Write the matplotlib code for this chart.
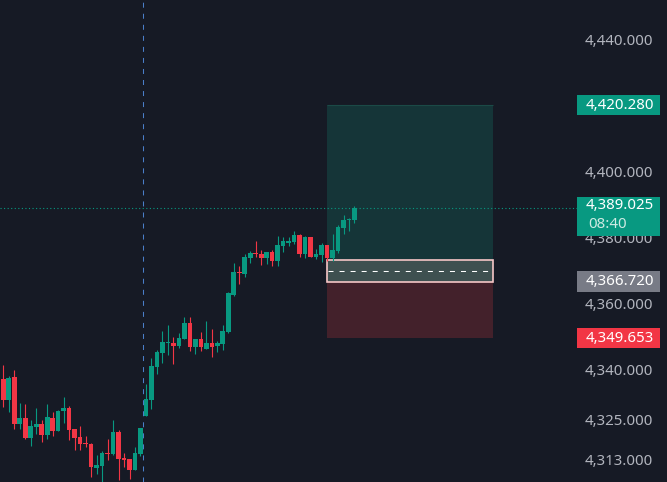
import matplotlib
matplotlib.use("Agg")
import matplotlib.pyplot as plt
from matplotlib.patches import Rectangle
from matplotlib.transforms import blended_transform_factory
import numpy as np

# ---------------- data ----------------
opens = [4337.3, 4331.0, 4337.9, 4323.7, 4325.5, 4319.5, 4322.7, 4323.6, 4320.3, 4325.5,
         4321.5, 4327.6, 4328.5, 4322.1, 4319.7, 4317.9, 4317.6, 4310.4, 4311.0, 4314.8,
         4314.5, 4321.2, 4313.3, 4313.0, 4309.7, 4314.5, 4326.1, 4330.9, 4340.9, 4345.2,
         4348.2, 4348.2, 4347.3, 4349.4, 4354.2, 4347.0, 4349.4, 4346.4, 4348.2, 4347.3,
         4347.9, 4351.5, 4362.7, 4369.7, 4369.1, 4374.0, 4375.5, 4375.2, 4374.0, 4375.8,
         4373.0, 4377.6, 4378.5, 4378.8, 4380.9, 4375.2, 4380.3, 4374.2, 4374.8, 4377.9,
         4373.9, 4376.1, 4383.0, 4385.5, 4385.5]
highs = [4341.5, 4338.2, 4340.0, 4330.0, 4329.7, 4324.8, 4328.5, 4324.8, 4329.7, 4327.3,
         4327.9, 4331.8, 4329.1, 4322.1, 4323.0, 4320.0, 4317.9, 4314.2, 4315.5, 4319.1,
         4324.8, 4321.8, 4314.8, 4313.0, 4316.7, 4322.4, 4335.8, 4343.6, 4346.1, 4351.8,
         4353.6, 4350.0, 4351.2, 4356.1, 4356.1, 4349.4, 4351.5, 4354.8, 4352.4, 4348.8,
         4353.6, 4363.6, 4372.4, 4371.5, 4375.2, 4376.1, 4379.1, 4376.4, 4375.8, 4376.4,
         4380.6, 4380.3, 4380.3, 4382.1, 4381.2, 4380.6, 4380.3, 4376.7, 4378.5, 4377.9,
         4381.2, 4383.9, 4387.0, 4386.1, 4389.7]
lows = [4328.9, 4327.4, 4322.0, 4322.0, 4319.1, 4317.1, 4320.6, 4318.2, 4319.1, 4320.0,
        4321.5, 4323.9, 4318.8, 4315.8, 4315.8, 4316.7, 4307.7, 4308.6, 4306.0, 4312.7,
        4314.2, 4306.7, 4310.6, 4307.0, 4309.7, 4313.9, 4326.1, 4328.2, 4338.8, 4342.2,
        4344.5, 4341.8, 4346.7, 4349.4, 4345.8, 4344.8, 4345.8, 4346.4, 4343.9, 4345.5,
        4346.1, 4351.2, 4362.4, 4366.1, 4368.2, 4372.4, 4374.2, 4371.8, 4372.1, 4371.5,
        4371.5, 4375.8, 4377.6, 4378.2, 4374.2, 4373.9, 4374.2, 4373.6, 4372.7, 4373.0,
        4373.0, 4375.5, 4381.2, 4382.1, 4384.5]
closes = [4331.0, 4337.6, 4323.7, 4325.5, 4319.4, 4323.0, 4323.6, 4320.3, 4325.8, 4321.5,
          4327.6, 4328.5, 4321.8, 4319.4, 4317.6, 4317.6, 4310.7, 4311.2, 4314.8, 4314.5,
          4321.2, 4313.0, 4312.7, 4309.7, 4314.8, 4322.4, 4331.2, 4341.2, 4345.5, 4348.5,
          4348.5, 4347.3, 4349.7, 4354.2, 4347.0, 4349.4, 4347.0, 4348.2, 4347.0, 4348.2,
          4351.8, 4363.3, 4369.7, 4369.4, 4374.2, 4375.5, 4375.2, 4374.0, 4375.8, 4373.0,
          4377.9, 4379.1, 4379.1, 4380.9, 4375.2, 4380.3, 4374.2, 4375.2, 4377.9, 4373.9,
          4376.4, 4383.3, 4385.5, 4385.8, 4389.025]

ytick_values = [4440, 4400, 4380, 4360, 4340, 4325, 4313]
take_profit = 4420.280
entry_price = 4366.720
stop_loss = 4349.653
current_price = 4389.025
countdown = "08:40"
box_top = 4373.25
position_start, position_end = 59, 89.2
crosshair_x = 25.5

# ---------------- style ----------------
BG = "#161a25"
UP = "#089981"
DOWN = "#f23645"
TXT = "#b2b5be"
FS = 10.8
W, H = 667, 482
AX_RIGHT_PX = 577
plt.rcParams['font.family'] = ['Noto Sans', 'DejaVu Sans']

fig = plt.figure(figsize=(W / 100, H / 100), dpi=100, facecolor=BG)
ax = fig.add_axes([0, 0, AX_RIGHT_PX / W, 1])
ax.set_facecolor(BG)
for s in ax.spines.values():
    s.set_visible(False)

# scales (pixel geometry from reference)
x0_px, step_px = 3.3, 5.4875
ax.set_xlim(-x0_px / step_px, (AX_RIGHT_PX - x0_px) / step_px)
ppu = 3.3  # pixels per price unit
ylo = 4400 - (H - 172) / ppu
yhi = 4400 + 172 / ppu
ax.set_ylim(ylo, yhi)
ax.set_xticks([])

def px2price(py):
    return 4400 - (py - 172) / ppu

o = np.array(opens); h = np.array(highs); l = np.array(lows); c = np.array(closes)
x = np.arange(len(o))
up = c >= o
cols = np.where(up, UP, DOWN)

# position zones
ax.add_patch(Rectangle((position_start, entry_price), position_end - position_start,
                       take_profit - entry_price, facecolor="#153538", edgecolor="none", zorder=1))
ax.hlines(take_profit, position_start, position_end, color="#1b4a47", lw=0.8, zorder=1.1)
ax.add_patch(Rectangle((position_start, stop_loss), position_end - position_start,
                       entry_price - stop_loss, facecolor="#43212b", edgecolor="none", zorder=1))
ax.add_patch(Rectangle((position_start, entry_price), position_end - position_start,
                       box_top - entry_price, facecolor="#3e5050", edgecolor="#f5c6c6",
                       lw=1.2, zorder=1.2))
ax.hlines((entry_price + box_top) / 2, position_start + 0.1, position_end - 0.3, color="white",
          lw=0.75, linestyles=[(0, (4.8, 5.8))], zorder=1.3)

# crosshair vertical line
ax.axvline(crosshair_x, color="#4a7fc9", lw=0.75, ls=(0, (4.8, 5.8)), zorder=1.5)

# candles
ax.vlines(x, l, h, colors=cols, lw=0.8, zorder=2)
body_h = np.maximum(np.abs(c - o), 0.35)
ax.bar(x, body_h, bottom=np.minimum(o, c), width=0.84, color=cols, linewidth=0, zorder=2.1)

# current price dotted line
ax.axhline(current_price, color=UP, lw=0.8, ls=(0, (1, 2.2)), zorder=2.2)

# right price scale
ax.yaxis.tick_right()
ax.set_yticks(ytick_values)
ax.set_yticklabels([f"{v:,.3f}" for v in ytick_values])
pad_pt = (653 - AX_RIGHT_PX) * 72 / 100
ax.tick_params(axis='y', length=0, pad=pad_pt, labelcolor=TXT, labelsize=FS)
for lbl in ax.get_yticklabels():
    lbl.set_horizontalalignment('right')

tr = blended_transform_factory(ax.transAxes, ax.transData)
bx0 = 1.0
bx1 = 660 / AX_RIGHT_PX
tx = 654 / AX_RIGHT_PX
box_h = 20.7 / ppu

def price_box(price, color, txtcolor="white"):
    ax.add_patch(Rectangle((bx0, price - box_h / 2), bx1 - bx0, box_h, transform=tr,
                           facecolor=color, edgecolor="none", clip_on=False, zorder=5))
    ax.text(tx, price, f"{price:,.3f}", transform=tr, ha='right', va='center',
            color=txtcolor, fontsize=FS, clip_on=False, zorder=6)

price_box(take_profit, UP)
price_box(entry_price, "#787b86")
price_box(stop_loss, DOWN)

# current price box (two lines)
top_p, bot_p = px2price(196.7), px2price(235.7)
ax.add_patch(Rectangle((bx0, bot_p), bx1 - bx0, top_p - bot_p, transform=tr,
                       facecolor=UP, edgecolor="none", clip_on=False, zorder=5))
ax.text(tx, px2price(206), f"{current_price:,.3f}", transform=tr, ha='right', va='center',
        color="white", fontsize=FS, clip_on=False, zorder=6)
ax.text(588 / AX_RIGHT_PX, px2price(224.5), countdown, transform=tr, ha='left', va='center',
        color="#cdeae3", fontsize=FS, clip_on=False, zorder=6)

fig.savefig("out.png", dpi=100, facecolor=BG)
